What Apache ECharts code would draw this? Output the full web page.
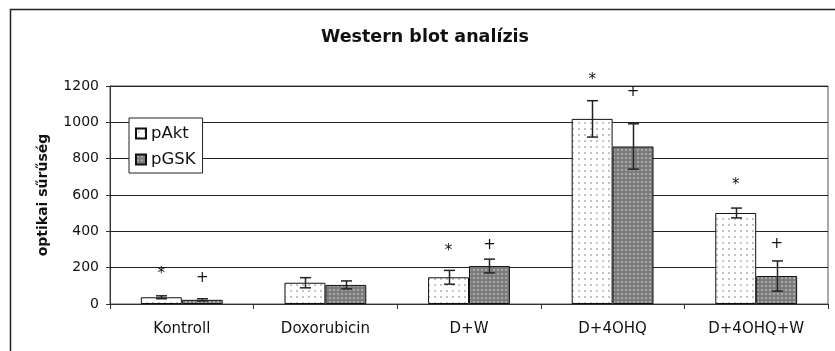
<!DOCTYPE html>
<html>
<head>
<meta charset="utf-8">
<script src="https://cdn.jsdelivr.net/npm/echarts@6/dist/echarts.min.js"></script>
<style>
  html, body { margin: 0; padding: 0; background: #fff; }
  #chart { width: 835px; height: 351px; }
</style>
</head>
<body>
<div id="chart"></div>
<script>
// Western blot densitometry: pAkt and pGSK per treatment group
const categories = ['Kontroll', 'Doxorubicin', 'D+W', 'D+4OHQ', 'D+4OHQ+W'];
const pAkt = [37, 117, 147, 1019, 501];
const pAktErr = [8, 28, 38, 100, 27];
const pGSK = [23, 105, 209, 867, 154];
const pGSKErr = [6, 22, 38, 125, 83];
// significance marks: '*' above pAkt, '+' above pGSK (null = none)
const starAt = [178, null, 301, 1241, 668];
const plusAt = [140, null, 325, 1164, 329];
const yTicks = [0, 200, 400, 600, 800, 1000, 1200];

const FONT = 'DejaVu Sans';
const CAT_GAP = 0.43;

function dotPattern(size, bg, dot, dotSize, off) {
  const c = document.createElement('canvas');
  c.width = size; c.height = size;
  const g = c.getContext('2d');
  g.fillStyle = bg; g.fillRect(0, 0, size, size);
  g.fillStyle = dot; g.fillRect(off, off, dotSize, dotSize);
  return { image: c, repeat: 'repeat' };
}
const lightFill = dotPattern(6, '#ffffff', '#c4c4c4', 2, 2);
const darkFill = dotPattern(4, '#7c7c7c', '#a9a9a9', 2, 1);

function errData(vals, errs) {
  return vals.map((v, i) => [i, v - errs[i], v + errs[i]]);
}
function markData(arr) {
  return arr.map((v, i) => [i, v]).filter(d => d[1] != null);
}

function errRender(side) {
  return function (params, api) {
    const i = api.value(0);
    const lo = api.coord([i, api.value(1)]);
    const hi = api.coord([i, api.value(2)]);
    const band = api.size([1, 0])[0];
    const x = Math.round(lo[0] + side * band * (1 - CAT_GAP) / 4) + 0.5;
    const w = 5.5;
    const st = { stroke: '#222', lineWidth: 1.5 };
    return {
      type: 'group',
      children: [
        { type: 'line', shape: { x1: x, y1: lo[1], x2: x, y2: hi[1] }, style: st },
        { type: 'line', shape: { x1: x - w, y1: lo[1], x2: x + w, y2: lo[1] }, style: st },
        { type: 'line', shape: { x1: x - w, y1: hi[1], x2: x + w, y2: hi[1] }, style: st }
      ]
    };
  };
}
function markRender(side, symbol, dy) {
  return function (params, api) {
    const i = api.value(0);
    const p = api.coord([i, api.value(1)]);
    const band = api.size([1, 0])[0];
    const x = p[0] + side * band * (1 - CAT_GAP) / 4;
    return {
      type: 'text',
      style: {
        text: symbol, x: x, y: p[1] + dy,
        align: 'center', verticalAlign: 'middle',
        font: '15px "' + FONT + '"', fill: '#111'
      }
    };
  };
}

const chart = echarts.init(document.getElementById('chart'), null, { renderer: 'canvas' });
chart.setOption({
  animation: false,
  backgroundColor: '#fff',
  textStyle: { fontFamily: FONT },
  title: {
    text: 'Western blot analízis',
    left: 425, top: 28, textAlign: 'center', padding: 0,
    textStyle: { fontFamily: FONT, fontSize: 17.5, fontWeight: 'bold', color: '#111' }
  },
  graphic: [{
    type: 'rect', silent: true, z: -1,
    shape: { x: 10.5, y: 9.5, width: 900, height: 400 },
    style: { fill: null, stroke: '#222', lineWidth: 1.5 }
  }],
  legend: {
    orient: 'vertical', left: 129, top: 118,
    data: ['pAkt', 'pGSK'],
    icon: 'rect', itemWidth: 10, itemHeight: 10, itemGap: 9,
    padding: [7, 7, 5, 6],
    backgroundColor: '#fff', borderColor: '#222', borderWidth: 1, borderRadius: 0,
    textStyle: { fontFamily: FONT, fontSize: 16.5, color: '#111' }
  },
  grid: {
    left: 110, right: 7, top: 86, bottom: 47,
    show: true, borderColor: '#555', borderWidth: 1
  },
  xAxis: {
    type: 'category', data: categories,
    axisLine: { lineStyle: { color: '#333', width: 1 } },
    axisTick: { show: true, length: 5, lineStyle: { color: '#333' } },
    axisLabel: { fontFamily: FONT, fontSize: 15, color: '#111', margin: 18 }
  },
  yAxis: {
    type: 'value', min: 0, max: 1200, interval: 200,
    name: 'optikai sűrűség', nameLocation: 'middle', nameGap: 60,
    nameTextStyle: { fontFamily: FONT, fontSize: 14, fontWeight: 'bold', color: '#111' },
    axisLine: { show: true, lineStyle: { color: '#333', width: 1 } },
    axisTick: { show: true, length: 4, lineStyle: { color: '#333' } },
    axisLabel: {
      fontFamily: FONT, fontSize: 14, color: '#111', margin: 11,
      formatter: v => (yTicks.indexOf(v) >= 0 ? String(v) : '')
    },
    splitLine: { show: true, lineStyle: { color: '#222', width: 1 } }
  },
  series: [
    {
      name: 'pAkt', type: 'bar', data: pAkt,
      barGap: '0%', barCategoryGap: (CAT_GAP * 100) + '%',
      itemStyle: { color: lightFill, borderColor: '#111', borderWidth: 1 }
    },
    {
      name: 'pGSK', type: 'bar', data: pGSK,
      itemStyle: { color: darkFill, borderColor: '#111', borderWidth: 1 }
    },
    { type: 'custom', data: errData(pAkt, pAktErr), renderItem: errRender(-1), z: 5, encode: { x: 0, y: [1, 2] } },
    { type: 'custom', data: errData(pGSK, pGSKErr), renderItem: errRender(1), z: 5, encode: { x: 0, y: [1, 2] } },
    { type: 'custom', data: markData(starAt), renderItem: markRender(-1, '*', 2), z: 6, clip: false, encode: { x: 0, y: 1 } },
    { type: 'custom', data: markData(plusAt), renderItem: markRender(1, '+', 0), z: 6, clip: false, encode: { x: 0, y: 1 } }
  ]
});
</script>
</body>
</html>
